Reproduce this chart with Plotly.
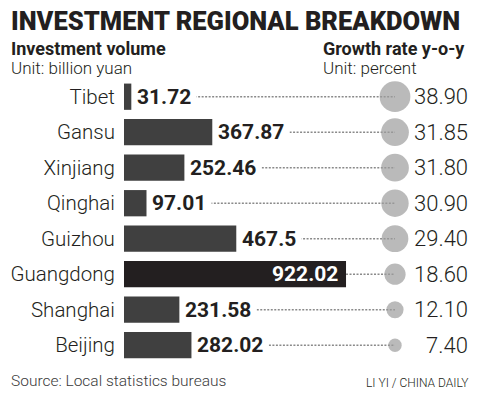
import plotly.graph_objects as go

regions = ["Tibet", "Gansu", "Xinjiang", "Qinghai", "Guizhou", "Guangdong", "Shanghai", "Beijing"]
volume = [31.72, 367.87, 252.46, 97.01, 467.5, 922.02, 231.58, 282.02]
volume_labels = ["31.72", "367.87", "252.46", "97.01", "467.5", "922.02", "231.58", "282.02"]
growth = [38.90, 31.85, 31.80, 30.90, 29.40, 18.60, 12.10, 7.40]
growth_labels = ["38.90", "31.85", "31.80", "30.90", "29.40", "18.60", "12.10", "7.40"]
highlight = "Guangdong"

# window 478x395; the page body has an 8px margin, so the figure sits 8px in
WIN_W, WIN_H, OFF = 478, 395, 8
FW, FH = WIN_W - OFF, WIN_H - OFF
LEFT_TXT = 9          # leftmost visible window px for left-aligned texts

BAR_X0 = 124          # window px where bars start
PX_PER_UNIT = 0.2408  # px per billion yuan
CIRCLE_PX = 395
ROW0_PX, ROW_PITCH = 96.7, 35.5
MAX_DIAM = 30.7

TEXT = "#231f20"
BAR = "#404040"
BAR_HI = "#231f20"
CIRCLE = "#9d9d9d"
DOT = "#8a8a8a"

x_max = (WIN_W - BAR_X0) / PX_PER_UNIT
circle_x = (CIRCLE_PX - BAR_X0) / PX_PER_UNIT
y_top = -(ROW0_PX - OFF) / ROW_PITCH
y_bot = (WIN_H - ROW0_PX) / ROW_PITCH


def px(x):
    return (x - OFF) / FW


def py(y):
    return 1 - (y - OFF) / FH


fig = go.Figure()

# dotted connectors
for r, v in zip(regions, volume):
    fig.add_trace(go.Scatter(x=[v, circle_x], y=[r, r], mode="lines",
                             line=dict(color=DOT, width=1.5, dash="2px,1.5px"),
                             hoverinfo="skip", showlegend=False))

fig.add_trace(go.Bar(
    x=volume, y=regions, orientation="h",
    marker=dict(color=[BAR_HI if r == highlight else BAR for r in regions], line=dict(width=0)),
    width=0.74, showlegend=False, hoverinfo="skip"))

fig.add_trace(go.Scatter(
    x=[circle_x] * len(regions), y=regions, mode="markers",
    marker=dict(size=growth, sizemode="area", sizeref=2 * max(growth) / MAX_DIAM ** 2,
                color=CIRCLE, line=dict(width=0)),
    showlegend=False, hoverinfo="skip"))

VAL_FONT = "Roboto"
annotations = []
for r, v, lab in zip(regions, volume, volume_labels):
    if r == highlight:
        annotations.append(dict(x=v, y=r, xref="x", yref="y", text=lab, showarrow=False,
                                xanchor="right", yanchor="middle", xshift=-6,
                                font=dict(family=VAL_FONT, size=21, color="white", weight="bold")))
    else:
        annotations.append(dict(x=v, y=r, xref="x", yref="y", text=lab, showarrow=False,
                                xanchor="left", yanchor="middle", xshift=-1, bgcolor="white", borderpad=5,
                                font=dict(family=VAL_FONT, size=21, color=TEXT, weight="bold")))

for r, lab in zip(regions, growth_labels):
    annotations.append(dict(x=px(470), y=r, xref="paper", yref="y", text=lab, showarrow=False,
                            xanchor="right", yanchor="middle",
                            font=dict(family="Roboto", size=22, color=TEXT, weight=300)))

annotations += [
    dict(x=px(LEFT_TXT), y=py(21), xref="paper", yref="paper", text="INVESTMENT REGIONAL BREAKDOWN",
         showarrow=False, xanchor="left", yanchor="middle",
         font=dict(family="Roboto", size=25.5, color=TEXT, weight=900)),
    dict(x=px(LEFT_TXT), y=py(48), xref="paper", yref="paper", text="Investment volume",
         showarrow=False, xanchor="left", yanchor="middle",
         font=dict(family="Roboto", size=18, color=TEXT, weight="bold")),
    dict(x=px(LEFT_TXT), y=py(68.5), xref="paper", yref="paper", text="Unit: billion yuan",
         showarrow=False, xanchor="left", yanchor="middle",
         font=dict(family="Roboto", size=17, color=TEXT, weight=300)),
    dict(x=px(321), y=py(48), xref="paper", yref="paper", text="Growth rate y-o-y",
         showarrow=False, xanchor="left", yanchor="middle",
         font=dict(family="Roboto", size=18, color=TEXT, weight="bold")),
    dict(x=px(321), y=py(68.5), xref="paper", yref="paper", text="Unit: percent",
         showarrow=False, xanchor="left", yanchor="middle",
         font=dict(family="Roboto", size=17, color=TEXT, weight=300)),
    dict(x=px(LEFT_TXT), y=py(381), xref="paper", yref="paper", text="Source: Local statistics bureaus",
         showarrow=False, xanchor="left", yanchor="middle",
         font=dict(family="Roboto", size=15.5, color="#3a3a3a", weight=300)),
    dict(x=px(471), y=py(383), xref="paper", yref="paper", text="LI YI / CHINA DAILY",
         showarrow=False, xanchor="right", yanchor="middle",
         font=dict(family="Roboto", size=12, color=TEXT, weight=300)),
]

fig.update_layout(
    width=FW, height=FH, margin=dict(l=0, r=0, t=0, b=0, autoexpand=False),
    paper_bgcolor="white", plot_bgcolor="white",
    xaxis=dict(domain=[px(BAR_X0), 1], range=[0, x_max], visible=False, fixedrange=True,
               automargin=False),
    yaxis=dict(type="category", categoryorder="array", categoryarray=regions,
               range=[y_bot, y_top], showgrid=False, zeroline=False, showline=False,
               ticks="outside", ticklen=4, tickcolor="rgba(0,0,0,0)",
               tickfont=dict(family="Roboto", size=20.5, color=TEXT, weight=300),
               automargin=False, fixedrange=True),
    annotations=annotations,
)

fig.write_html("out.html")
